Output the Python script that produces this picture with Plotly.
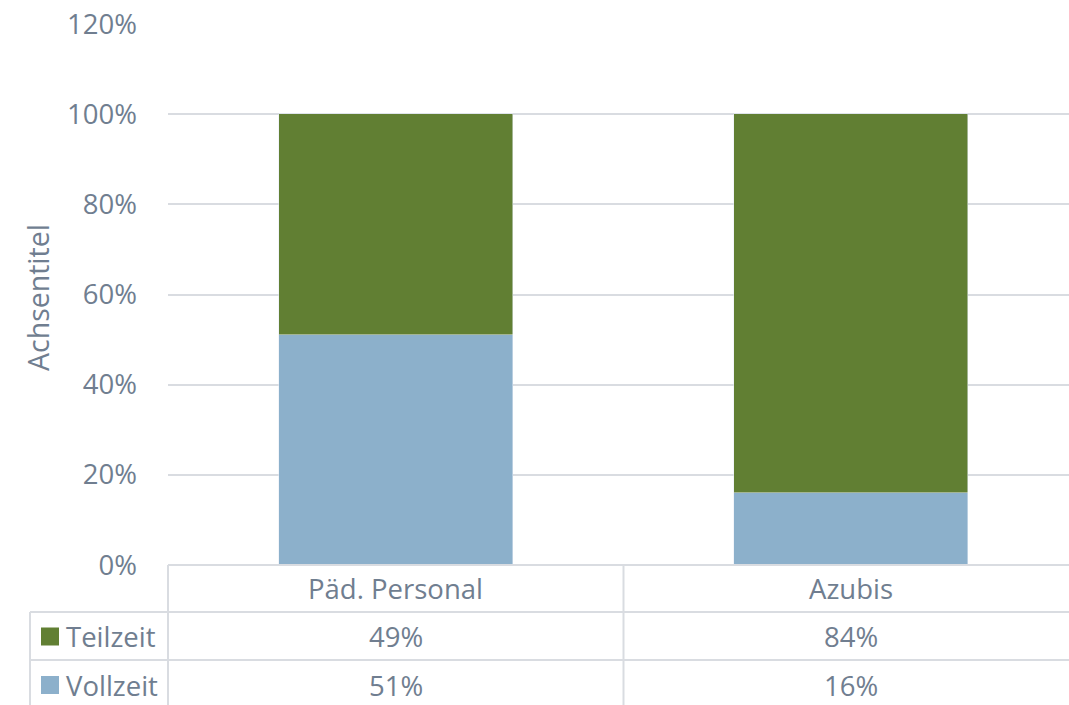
import plotly.graph_objects as go

categories = ["Päd. Personal", "Azubis"]
vollzeit = [0.51, 0.16]
teilzeit = [0.49, 0.84]
series_names = ["Teilzeit", "Vollzeit"]
y_ticks = [0, 0.2, 0.4, 0.6, 0.8, 1.0, 1.2]

GREEN = "#617f33"
BLUE = "#8cb0cb"
TXT = "#707e90"
LINE = "#d9dce1"
FONT = "Open Sans"
FS = 27.5

W, H = 1069, 705
L, T, B = 168, 24, 140
PH = H - T - B  # plot height in px
PW = W - L

def py(ypx):
    return (H - B - ypx) / PH

def px(xpx):
    return (xpx - L) / PW

fig = go.Figure()
fig.add_trace(go.Bar(x=[0, 1], y=vollzeit, name="Vollzeit", marker_color=BLUE,
                     width=0.514, hoverinfo="skip"))
fig.add_trace(go.Bar(x=[0, 1], y=teilzeit, name="Teilzeit", marker_color=GREEN,
                     width=0.514, hoverinfo="skip"))

shapes = []
def hline(x0, x1, y):
    shapes.append(dict(type="line", xref="paper", yref="paper", x0=px(x0), x1=px(x1),
                       y0=py(y), y1=py(y), line=dict(color=LINE, width=2), layer="above"))
def vline(x, y0, y1):
    shapes.append(dict(type="line", xref="paper", yref="paper", x0=px(x), x1=px(x),
                       y0=py(y0), y1=py(y1), line=dict(color=LINE, width=2), layer="above"))

hline(168, 1080, 565)
hline(30, 1080, 612)
hline(30, 1080, 660)
vline(30, 612, 710)
vline(168, 565, 710)
vline(623.5, 565, 710)

# legend keys in table
for name, color, yc in [("Teilzeit", GREEN, 636.5), ("Vollzeit", BLUE, 685)]:
    shapes.append(dict(type="rect", xref="paper", yref="paper",
                       x0=px(41), x1=px(59), y0=py(yc - 9), y1=py(yc + 9),
                       fillcolor=color, line=dict(width=0)))

annotations = []
font = dict(family=FONT, size=FS, color=TXT)
# category header row
for i, c in enumerate(categories):
    annotations.append(dict(x=i, xref="x", y=py(588.5), yref="paper", text=c,
                            xanchor="center", yanchor="middle", showarrow=False, font=font))
# data rows
rows = [("Teilzeit", teilzeit, 636.5), ("Vollzeit", vollzeit, 685)]
for name, vals, yc in rows:
    annotations.append(dict(x=px(64), xref="paper", y=py(yc), yref="paper", text=name,
                            xanchor="left", yanchor="middle", showarrow=False, font=font))
    for i, v in enumerate(vals):
        annotations.append(dict(x=i, xref="x", y=py(yc), yref="paper",
                                text=f"{round(v*100)}%", xanchor="center", yanchor="middle",
                                showarrow=False, font=font))
# axis title
annotations.append(dict(x=px(38), xref="paper", y=py(298), yref="paper", text="Achsentitel",
                        textangle=-90, xanchor="center", yanchor="middle", showarrow=False,
                        font=dict(family=FONT, size=28.5, color=TXT)))

fig.update_layout(
    width=W, height=H,
    margin=dict(l=L, r=0, t=T, b=B),
    barmode="stack",
    plot_bgcolor="white", paper_bgcolor="white",
    showlegend=False,
    shapes=shapes,
    annotations=annotations,
    xaxis=dict(range=[-0.5, 1.5 - 10 / 455.5], showticklabels=False, showgrid=False,
               zeroline=False, showline=False, fixedrange=True),
    yaxis=dict(range=[0, 1.2], tickvals=y_ticks, tickformat=".0%", showgrid=True,
               gridcolor=LINE, gridwidth=2, zeroline=False, showline=False,
               ticklabelstandoff=30, ticks="",
               tickfont=font, fixedrange=True),
    bargap=0,
)

fig.write_html("out.html", config={"displayModeBar": False},
               post_script="document.body.style.margin='0px';")
